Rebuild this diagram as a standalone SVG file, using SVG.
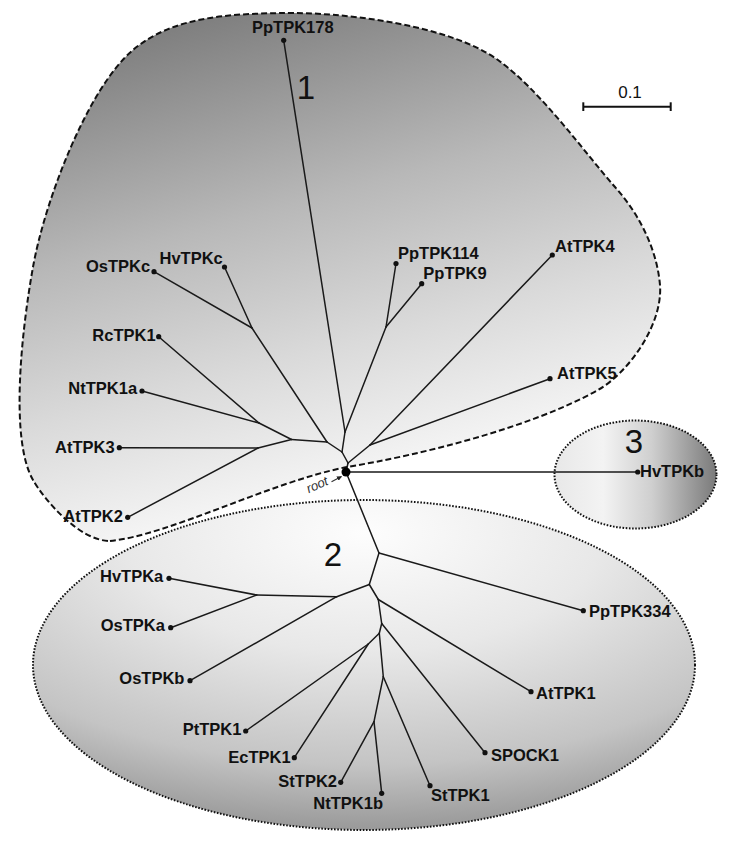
<svg xmlns="http://www.w3.org/2000/svg" width="730" height="846" viewBox="0 0 730 846">
<style>
.lbl{font-family:"Liberation Sans",Arial,sans-serif;font-weight:bold;font-size:16.5px;fill:#111}
.num{font-family:"Liberation Sans",Arial,sans-serif;font-size:33px;fill:#111;text-anchor:middle}
.e{stroke:#1a1a1a;stroke-width:1.5;stroke-linecap:round;fill:none}
.dot{fill:#111}
.dash{stroke:#111;stroke-width:2;stroke-dasharray:6 3}
.dotted{stroke:#111;stroke-width:2;stroke-dasharray:1.6 1.6}
</style>
<defs>
<linearGradient id="g1" gradientUnits="userSpaceOnUse" x1="250" y1="10" x2="380" y2="490">
<stop offset="0" stop-color="#808080"/>
<stop offset="0.4" stop-color="#b8b8b8"/>
<stop offset="0.7" stop-color="#dadada"/>
<stop offset="1" stop-color="#f8f8f8"/>
</linearGradient>
<radialGradient id="g2" cx="0.5" cy="0.1" r="0.9">
<stop offset="0" stop-color="#fdfdfd"/>
<stop offset="0.4" stop-color="#e8e8e8"/>
<stop offset="0.78" stop-color="#c4c4c4"/>
<stop offset="1" stop-color="#999999"/>
</radialGradient>
<linearGradient id="g3" x1="0" y1="0" x2="1" y2="0">
<stop offset="0" stop-color="#e8e8e8"/>
<stop offset="0.3" stop-color="#f3f3f3"/>
<stop offset="0.6" stop-color="#cfcfcf"/>
<stop offset="1" stop-color="#7a7a7a"/>
</linearGradient>
<marker id="arr" viewBox="0 0 10 10" refX="9" refY="5" markerWidth="5" markerHeight="5" orient="auto" markerUnits="userSpaceOnUse">
<path d="M0,0 L10,5 L0,10 z" fill="#222"/>
</marker>
</defs>
<rect width="730" height="846" fill="#fff"/>

<g id="cluster2">
<ellipse cx="364" cy="665" rx="331" ry="165" fill="url(#g2)" class="dotted"/>
<text class="num" x="333" y="566">2</text>
</g>
<g id="cluster3">
<ellipse cx="635.5" cy="474.5" rx="81" ry="54" fill="url(#g3)" class="dotted"/>
<text class="num" x="634" y="453.3">3</text>
</g>
<g id="cluster1">
<path class="dash" fill="url(#g1)" d="M110,541 C170,535 270,482 347,467 C420,455 530,428 598,390 C628,373 663,325 660,285 C657,250 640,215 615,187 C585,153 540,90 498,60 C448,24 340,12 283,13 C230,14 173,16 133,50 C88,88 45,200 33,267 C21,334 10,440 33,480 C45,501 80,541 110,541 Z"/>
<text class="num" x="306" y="99.3">1</text>
</g>

<g id="connectors">
<line class="e" x1="346" y1="472" x2="348" y2="463"/>
<line class="e" x1="348" y1="463" x2="342" y2="452"/>
<line class="e" x1="348" y1="463" x2="370" y2="445"/>
<line class="e" x1="370" y1="445" x2="552.3" y2="255"/>
<line class="e" x1="370" y1="445" x2="550" y2="378.7"/>
<line class="e" x1="342" y1="452" x2="345" y2="432"/>
<line class="e" x1="345" y1="432" x2="283.7" y2="40.3"/>
<line class="e" x1="345" y1="432" x2="386" y2="327"/>
<line class="e" x1="386" y1="327" x2="396" y2="263.5"/>
<line class="e" x1="386" y1="327" x2="421.7" y2="283.7"/>
<line class="e" x1="342" y1="452" x2="327" y2="442"/>
<line class="e" x1="327" y1="442" x2="252" y2="328"/>
<line class="e" x1="252" y1="328" x2="154" y2="271.7"/>
<line class="e" x1="252" y1="328" x2="224.5" y2="267"/>
<line class="e" x1="327" y1="442" x2="291.5" y2="439.5"/>
<line class="e" x1="291.5" y1="439.5" x2="259" y2="423"/>
<line class="e" x1="259" y1="423" x2="158.7" y2="336.7"/>
<line class="e" x1="259" y1="423" x2="142" y2="391"/>
<line class="e" x1="291.5" y1="439.5" x2="258" y2="448"/>
<line class="e" x1="258" y1="448" x2="119.3" y2="447.7"/>
<line class="e" x1="258" y1="448" x2="127.7" y2="517.3"/>
<line class="e" x1="346" y1="472" x2="637.7" y2="472"/>
<line class="e" x1="346" y1="472" x2="379" y2="553"/>
<line class="e" x1="379" y1="553" x2="583.3" y2="610.7"/>
<line class="e" x1="379" y1="553" x2="369.3" y2="584.5"/>
<line class="e" x1="369.3" y1="584.5" x2="336.7" y2="596.7"/>
<line class="e" x1="336.7" y1="596.7" x2="256.7" y2="595"/>
<line class="e" x1="256.7" y1="595" x2="169" y2="578.3"/>
<line class="e" x1="256.7" y1="595" x2="170.7" y2="627.7"/>
<line class="e" x1="336.7" y1="596.7" x2="190" y2="680.7"/>
<line class="e" x1="369.3" y1="584.5" x2="378.3" y2="599.5"/>
<line class="e" x1="378.3" y1="599.5" x2="531" y2="691.7"/>
<line class="e" x1="378.3" y1="599.5" x2="381.7" y2="623.5"/>
<line class="e" x1="381.7" y1="623.5" x2="485" y2="752.7"/>
<line class="e" x1="381.7" y1="623.5" x2="379.3" y2="633.3"/>
<line class="e" x1="379.3" y1="633.3" x2="368.3" y2="644"/>
<line class="e" x1="368.3" y1="644" x2="245.7" y2="731"/>
<line class="e" x1="368.3" y1="644" x2="294.3" y2="757.7"/>
<line class="e" x1="379.3" y1="633.3" x2="383.3" y2="676.7"/>
<line class="e" x1="383.3" y1="676.7" x2="430" y2="785.7"/>
<line class="e" x1="383.3" y1="676.7" x2="374" y2="721.7"/>
<line class="e" x1="374" y1="721.7" x2="340.7" y2="782.3"/>
<line class="e" x1="374" y1="721.7" x2="381.7" y2="793.3"/>
</g>

<g id="root">
<circle cx="346" cy="472" r="4.5" fill="#000"/>
<text x="308.7" y="493.3" transform="rotate(-24 308.7 493.3)" style="font-family:'Liberation Sans',Arial,sans-serif;font-style:italic;font-size:13px;fill:#333">root</text>
<line x1="331.5" y1="481.8" x2="341.5" y2="476.5" stroke="#333" stroke-width="1.1" marker-end="url(#arr)"/>
</g>

<g id="PpTPK178"><circle class="dot" cx="283.7" cy="40.3" r="2.6"/><text class="lbl" x="252" y="32.5">PpTPK178</text></g>
<g id="PpTPK114"><circle class="dot" cx="396" cy="263.5" r="2.6"/><text class="lbl" x="398" y="259.3">PpTPK114</text></g>
<g id="PpTPK9"><circle class="dot" cx="421.7" cy="283.7" r="2.6"/><text class="lbl" x="423.3" y="279">PpTPK9</text></g>
<g id="AtTPK4"><circle class="dot" cx="552.3" cy="255" r="2.6"/><text class="lbl" x="555" y="251.7">AtTPK4</text></g>
<g id="AtTPK5"><circle class="dot" cx="550" cy="378.7" r="2.6"/><text class="lbl" x="557" y="379.3">AtTPK5</text></g>
<g id="OsTPKc"><circle class="dot" cx="154" cy="271.7" r="2.6"/><text class="lbl" x="86" y="271.7">OsTPKc</text></g>
<g id="HvTPKc"><circle class="dot" cx="224.5" cy="267" r="2.6"/><text class="lbl" x="159.5" y="264.2">HvTPKc</text></g>
<g id="RcTPK1"><circle class="dot" cx="158.7" cy="336.7" r="2.6"/><text class="lbl" x="92.3" y="341">RcTPK1</text></g>
<g id="NtTPK1a"><circle class="dot" cx="142" cy="391" r="2.6"/><text class="lbl" x="68.3" y="394.3">NtTPK1a</text></g>
<g id="AtTPK3"><circle class="dot" cx="119.3" cy="447.7" r="2.6"/><text class="lbl" x="55" y="453.3">AtTPK3</text></g>
<g id="AtTPK2"><circle class="dot" cx="127.7" cy="517.3" r="2.6"/><text class="lbl" x="63.3" y="522.3">AtTPK2</text></g>
<g id="HvTPKb"><circle class="dot" cx="637.7" cy="472" r="2.6"/><text class="lbl" x="640" y="476.5">HvTPKb</text></g>
<g id="PpTPK334"><circle class="dot" cx="583.3" cy="610.7" r="2.6"/><text class="lbl" x="589" y="616.7">PpTPK334</text></g>
<g id="HvTPKa"><circle class="dot" cx="169" cy="578.3" r="2.6"/><text class="lbl" x="100" y="582.3">HvTPKa</text></g>
<g id="OsTPKa"><circle class="dot" cx="170.7" cy="627.7" r="2.6"/><text class="lbl" x="100.7" y="631">OsTPKa</text></g>
<g id="OsTPKb"><circle class="dot" cx="190" cy="680.7" r="2.6"/><text class="lbl" x="119.3" y="684">OsTPKb</text></g>
<g id="AtTPK1"><circle class="dot" cx="531" cy="691.7" r="2.6"/><text class="lbl" x="536" y="699.3">AtTPK1</text></g>
<g id="SPOCK1"><circle class="dot" cx="485" cy="752.7" r="2.6"/><text class="lbl" x="491" y="760.7">SPOCK1</text></g>
<g id="PtTPK1"><circle class="dot" cx="245.7" cy="731" r="2.6"/><text class="lbl" x="182.7" y="735">PtTPK1</text></g>
<g id="EcTPK1"><circle class="dot" cx="294.3" cy="757.7" r="2.6"/><text class="lbl" x="228.3" y="762.7">EcTPK1</text></g>
<g id="StTPK2"><circle class="dot" cx="340.7" cy="782.3" r="2.6"/><text class="lbl" x="278.3" y="787.3">StTPK2</text></g>
<g id="NtTPK1b"><circle class="dot" cx="381.7" cy="793.3" r="2.6"/><text class="lbl" x="313.3" y="809">NtTPK1b</text></g>
<g id="StTPK1"><circle class="dot" cx="430" cy="785.7" r="2.6"/><text class="lbl" x="431" y="800.7">StTPK1</text></g>

<g id="scalebar">
<line x1="583.3" y1="106.7" x2="670.7" y2="106.7" stroke="#111" stroke-width="2"/>
<line x1="583.3" y1="102.3" x2="583.3" y2="111" stroke="#111" stroke-width="2"/>
<line x1="670.7" y1="102.3" x2="670.7" y2="111" stroke="#111" stroke-width="2"/>
<text x="630" y="98.3" text-anchor="middle" style="font-family:'Liberation Sans',Arial,sans-serif;font-size:17px;fill:#111">0.1</text>
</g>
</svg>
